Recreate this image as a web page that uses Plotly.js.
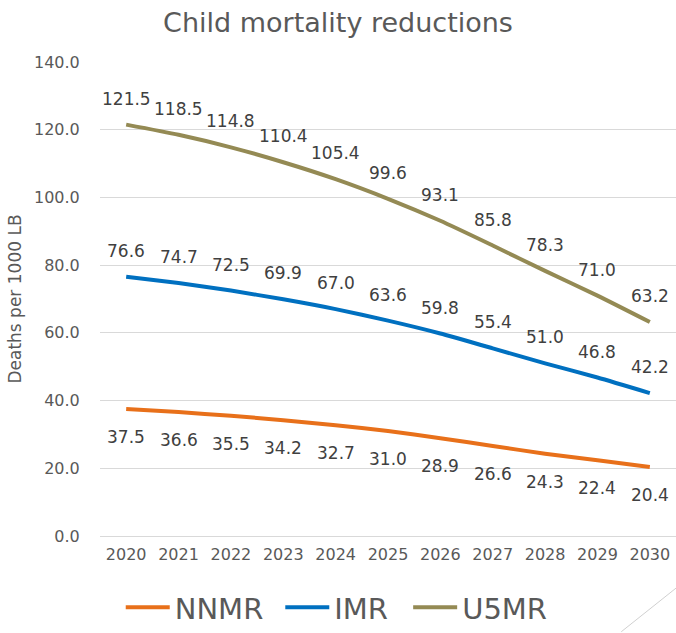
<!DOCTYPE html>
<html>
<head>
<meta charset="utf-8">
<script src="https://cdn.plot.ly/plotly-3.0.1.min.js"></script>
<style>html,body{margin:0;padding:0;background:#fff;}#chart{width:676px;height:633px;}</style>
</head>
<body>
<div id="chart"></div>
<script>
const years = [2020, 2021, 2022, 2023, 2024, 2025, 2026, 2027, 2028, 2029, 2030];
const nnmr = [37.5, 36.6, 35.5, 34.2, 32.7, 31.0, 28.9, 26.6, 24.3, 22.4, 20.4];
const imr  = [76.6, 74.7, 72.5, 69.9, 67.0, 63.6, 59.8, 55.4, 51.0, 46.8, 42.2];
const u5mr = [121.5, 118.5, 114.8, 110.4, 105.4, 99.6, 93.1, 85.8, 78.3, 71.0, 63.2];
const seriesNames = ['NNMR', 'IMR', 'U5MR'];
const colors = ['#E8701A', '#0070C0', '#948A54'];
const labelShift = [-28, 26, 26];
const legendIds = ['legend', 'legend2', 'legend3'];
const legendX = [0.036, 0.313, 0.535];

const FONT = 'DejaVu Sans';
const allSeries = [nnmr, imr, u5mr];

const traces = allSeries.map((vals, k) => ({
  x: years, y: vals, name: seriesNames[k], type: 'scatter', mode: 'lines',
  line: {color: colors[k], width: 4, shape: 'spline', smoothing: 0.6},
  legend: legendIds[k], hoverinfo: 'skip'
}));

const annotations = [];
allSeries.forEach((vals, k) => {
  vals.forEach((v, i) => {
    annotations.push({
      x: years[i], y: v, xref: 'x', yref: 'y', text: v.toFixed(1),
      showarrow: false, yshift: labelShift[k], xanchor: 'center', yanchor: 'middle',
      font: {family: FONT, size: 17, color: '#404040'}
    });
  });
});

const legendBase = (x) => ({orientation: 'h', x: x, xanchor: 'left', y: -0.15, yanchor: 'middle',
  font: {family: FONT, size: 29, color: '#595959'}, itemwidth: 44, bgcolor: 'rgba(0,0,0,0)'});

const layout = {
  width: 676, height: 633,
  margin: {l: 100, r: 0, t: 62, b: 96},
  paper_bgcolor: '#fff', plot_bgcolor: '#fff',
  font: {family: FONT, color: '#595959'},
  title: {text: 'Child mortality reductions', x: 0.5, xanchor: 'center', y: 0.965, yanchor: 'middle',
          font: {family: FONT, size: 27, color: '#595959'}},
  xaxis: {type: 'linear', range: [2019.5, 2030.5], dtick: 1, tick0: 2020, tickformat: 'd',
          showgrid: false, showline: false, zeroline: false,
          ticks: 'outside', ticklen: 4, tickcolor: 'rgba(0,0,0,0)',
          tickfont: {family: FONT, size: 16, color: '#595959'}, fixedrange: true},
  yaxis: {range: [0, 140], dtick: 20, tick0: 0, tickformat: '.1f', showgrid: true, gridcolor: '#D9D9D9', gridwidth: 1,
          zeroline: true, zerolinecolor: '#D9D9D9', zerolinewidth: 1, showline: false,
          ticks: 'outside', ticklen: 16, tickcolor: 'rgba(0,0,0,0)',
          tickfont: {family: FONT, size: 16, color: '#595959'},
          title: {text: 'Deaths per 1000 LB', font: {family: FONT, size: 17, color: '#595959'}, standoff: 8},
          automargin: false, fixedrange: true},
  showlegend: true,
  legend: legendBase(legendX[0]),
  legend2: legendBase(legendX[1]),
  legend3: legendBase(legendX[2]),
  annotations: annotations,
  shapes: [{type: 'line', xref: 'paper', yref: 'paper', x0: 0.905, y0: -0.202, x1: 1.0, y1: -0.11,
            line: {color: '#D0D0D0', width: 1}}]
};

Plotly.newPlot('chart', traces, layout, {displayModeBar: false, staticPlot: true});
</script>
</body>
</html>
